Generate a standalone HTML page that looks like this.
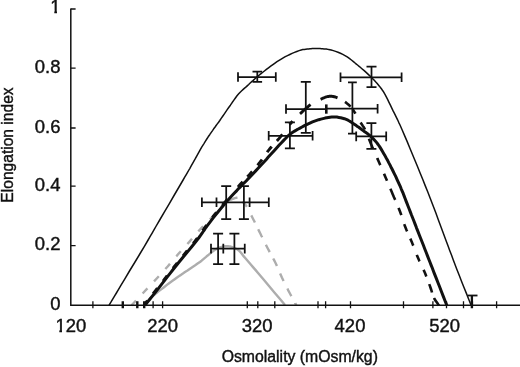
<!DOCTYPE html>
<html><head><meta charset="utf-8"><title>Elongation index vs osmolality</title>
<style>
html,body{margin:0;padding:0;background:#fff;}
body{width:520px;height:367px;overflow:hidden;}
svg{display:block;}
text{font-family:"Liberation Sans",Arial,Helvetica,sans-serif;fill:#111;stroke:#111;stroke-width:0.4px;}
</style></head><body>
<svg width="520" height="367" viewBox="0 0 520 367">
<rect width="520" height="367" fill="#fff"/>
<g fill="none" stroke="#adadad" stroke-width="2.4" stroke-linejoin="round">
<path d="M145.5,304.6 L146.2,303.6 L146.9,302.6 L147.7,301.5 L148.4,300.5 L149.2,299.5 L150.0,298.6 L150.9,297.7 L151.9,296.8 L152.8,296.0 L153.9,295.1 L155.0,294.2 L156.2,293.2 L158.5,291.4 L161.2,289.4 L164.0,287.2 L166.9,284.9 L169.8,282.7 L172.5,280.8 L174.7,279.2 L176.7,277.7 L178.8,276.3 L180.8,274.9 L182.9,273.5 L185.0,272.0 L187.5,270.4 L190.0,268.7 L192.6,267.0 L195.2,265.3 L197.6,263.6 L199.9,262.0 L201.6,260.7 L203.1,259.4 L204.6,258.1 L206.1,256.9 L207.4,255.7 L208.8,254.6 L209.7,253.8 L210.6,253.1 L211.4,252.4 L212.3,251.7 L213.1,251.1 L214.0,250.5 L214.8,250.0 L215.6,249.4 L216.5,248.9 L217.3,248.5 L218.1,248.1 L219.0,247.7 L219.8,247.4 L220.6,247.1 L221.5,246.9 L222.3,246.7 L223.1,246.5 L224.0,246.4 L225.0,246.3 L226.0,246.3 L227.0,246.2 L228.1,246.3 L229.1,246.4 L230.0,246.5 L230.8,246.7 L231.5,246.9 L232.3,247.2 L233.0,247.5 L233.7,247.8 L234.4,248.1 L235.1,248.4 L235.8,248.7 L236.5,249.0 L237.1,249.3 L237.8,249.7 L238.5,250.2 L239.5,251.1 L240.6,252.3 L241.6,253.6 L242.7,255.0 L243.8,256.4 L245.0,257.8 L246.5,259.5 L248.0,261.2 L249.5,263.0 L251.2,265.0 L253.0,267.1 L255.0,269.4 L259.1,274.2 L263.8,279.8 L269.0,286.0 L274.4,292.4 L279.8,298.8 L285.0,305.0"/>
<path d="M131.5,305.3 L133.7,303.0 L135.8,300.8 L137.9,298.6 L140.0,296.3 L142.3,293.9 L144.7,291.3 L148.3,287.5 L152.3,283.2 L156.5,278.7 L160.6,274.3 L164.5,270.0 L167.9,266.2 L169.9,263.9 L171.8,261.8 L173.5,259.7 L175.1,257.7 L176.8,255.8 L178.5,253.8 L180.3,251.8 L182.0,249.8 L183.8,247.9 L185.6,246.0 L187.3,244.1 L189.1,242.1 L190.9,240.0 L192.7,237.9 L194.5,235.8 L196.3,233.7 L198.1,231.6 L200.0,229.5 L202.1,227.3 L204.3,225.0 L206.5,222.8 L208.8,220.5 L211.0,218.3 L213.2,216.0 L215.4,213.6 L217.6,211.1 L219.8,208.5 L222.0,206.1 L224.1,204.0 L226.0,202.3 L226.6,201.9" stroke-dasharray="7.0 9.7" stroke-dashoffset="0.52"/>
<path d="M229.0,200.5 L229.1,200.4 L230.0,200.0 L231.0,199.6 L232.0,199.2 L232.9,198.8 L233.9,198.5 L234.9,198.1 L235.8,197.9 L236.7,197.7 L237.5,197.6 L237.5,197.6 M242.5,201.5 L243.1,202.3 L243.8,203.1 L244.6,203.9 L245.4,204.8 L246.1,205.7 L246.9,206.8 L246.9,206.8 M251.3,215.4 L252.0,216.8 L253.1,219.0 L254.3,221.3 L254.9,222.6 M258.2,229.3 L259.1,231.1 L260.3,233.5 L261.5,236.0 L262.2,237.3 M265.9,244.8 L266.5,246.0 L267.8,248.5 L269.1,250.9 L269.7,252.1 M273.2,258.5 L274.1,260.1 L275.3,262.5 L276.5,265.0 L276.9,266.0 M280.1,273.4 L280.8,275.0 L281.9,277.5 L283.1,280.0 L283.6,281.1 M287.4,288.6 L288.1,290.1 L289.4,292.5 L290.6,294.7 L291.4,296.1 M295.2,303.0 L295.2,303.2 L296.3,305.2"/>
</g>
<g fill="none" stroke="#111" stroke-linejoin="round">
<path d="M109.0,305.3 L110.9,302.2 L112.7,299.1 L114.5,296.1 L116.4,293.0 L118.4,289.6 L120.6,285.9 L124.7,279.1 L129.5,271.0 L134.7,262.5 L139.8,254.0 L144.4,246.3 L148.1,240.0 L149.6,237.4 L150.9,235.2 L152.0,233.3 L153.1,231.3 L154.4,229.1 L155.9,226.5 L159.7,220.0 L164.3,212.1 L169.5,203.3 L174.6,194.5 L179.3,186.5 L183.1,180.0 L184.7,177.2 L186.1,174.8 L187.4,172.6 L188.6,170.5 L189.9,168.3 L191.2,165.9 L193.2,162.4 L195.3,158.7 L197.4,154.8 L199.6,150.9 L201.7,147.1 L203.8,143.8 L205.3,141.3 L206.8,139.0 L208.2,136.8 L209.7,134.7 L211.1,132.6 L212.5,130.6 L213.7,128.8 L214.9,127.2 L216.1,125.5 L217.3,123.9 L218.6,122.2 L219.8,120.5 L221.2,118.4 L222.7,116.3 L224.2,114.1 L225.7,111.9 L227.2,109.7 L228.7,107.5 L230.4,105.2 L232.0,102.8 L233.7,100.4 L235.4,98.0 L237.0,95.8 L238.7,93.8 L240.2,92.2 L241.7,90.8 L243.2,89.4 L244.6,88.1 L246.1,86.9 L247.5,85.6 L248.7,84.5 L249.9,83.3 L251.1,82.2 L252.3,81.2 L253.5,80.1 L254.7,79.0 L255.9,77.9 L257.2,76.9 L258.4,75.8 L259.7,74.7 L261.1,73.6 L262.5,72.5 L264.4,71.0 L266.4,69.4 L268.5,67.8 L270.7,66.2 L272.9,64.6 L275.0,63.1 L277.0,61.7 L279.1,60.4 L281.2,59.1 L283.2,57.9 L285.3,56.7 L287.5,55.6 L289.8,54.5 L292.1,53.4 L294.5,52.4 L296.8,51.5 L299.1,50.6 L301.2,50.0 L302.8,49.6 L304.3,49.4 L305.8,49.2 L307.2,49.0 L308.6,48.9 L310.0,48.8 L311.1,48.7 L312.1,48.6 L313.1,48.6 L314.2,48.5 L315.2,48.5 L316.2,48.5 L317.5,48.5 L318.8,48.5 L320.1,48.6 L321.4,48.7 L322.7,48.8 L324.0,48.9 L325.2,49.0 L326.4,49.1 L327.5,49.3 L328.7,49.4 L329.9,49.7 L331.2,50.0 L333.3,50.6 L335.6,51.4 L338.0,52.3 L340.4,53.3 L342.8,54.4 L345.0,55.6 L347.2,56.9 L349.3,58.4 L351.4,60.0 L353.4,61.6 L355.4,63.3 L357.5,65.0 L359.7,66.8 L361.9,68.7 L364.2,70.6 L366.4,72.6 L368.5,74.6 L370.5,76.5 L372.2,78.2 L374.0,80.0 L375.6,81.8 L377.2,83.5 L378.6,85.2 L380.0,86.9 L381.0,88.2 L381.8,89.3 L382.6,90.5 L383.4,91.7 L384.2,93.0 L385.0,94.4 L386.3,96.8 L387.6,99.4 L389.0,102.3 L390.4,105.2 L391.8,108.1 L393.1,110.9 L394.3,113.2 L395.4,115.4 L396.5,117.6 L397.6,119.8 L398.7,122.3 L400.0,125.0 L402.2,130.0 L404.6,135.6 L407.2,141.6 L409.8,148.0 L412.4,154.3 L415.0,160.5 L417.6,166.7 L420.1,173.0 L422.7,179.3 L425.2,185.6 L427.8,192.0 L430.3,198.5 L433.0,205.5 L435.7,212.6 L438.3,219.8 L441.0,227.0 L443.6,233.9 L446.0,240.5 L447.9,245.6 L449.7,250.5 L451.5,255.1 L453.2,259.8 L455.0,264.6 L456.9,269.5 L459.2,275.3 L461.5,281.2 L463.9,287.3 L466.4,293.4 L468.8,299.5 L471.2,305.5" stroke-width="1.5"/>
<path d="M145.0,305.2 L147.5,302.1 L150.0,299.0 L152.5,295.8 L155.0,292.7 L157.5,289.6 L160.0,286.4 L162.5,283.2 L165.0,279.9 L167.5,276.7 L170.1,273.4 L172.7,270.0 L175.5,266.5 L179.3,261.8 L183.4,256.8 L187.7,251.6 L191.9,246.5 L195.7,241.7 L199.0,237.5 L200.7,235.2 L202.1,233.2 L203.3,231.3 L204.6,229.5 L205.9,227.5 L207.5,225.3 L210.2,221.8 L213.2,217.9 L216.5,213.8 L219.8,209.7 L223.1,205.7 L226.2,202.0 L228.9,199.0 L231.6,196.1 L234.2,193.3 L236.8,190.6 L239.1,188.1 L241.3,185.9 L242.4,184.7 L243.4,183.6 L244.4,182.7 L245.4,181.7 L246.4,180.7 L247.5,179.5 L249.3,177.6 L251.4,175.5 L253.5,173.2 L255.7,170.9 L257.9,168.5 L260.0,166.2 L262.1,164.0 L264.2,161.7 L266.3,159.4 L268.3,157.1 L270.4,154.8 L272.5,152.5 L274.6,150.2 L276.8,147.7 L279.0,145.3 L281.2,143.0 L283.2,140.9 L285.0,139.0 L286.0,138.0 L286.9,137.0 L287.8,136.2 L288.7,135.4 L289.6,134.6 L290.6,133.8 L292.0,132.8 L293.5,131.8 L295.0,130.9 L296.6,129.9 L298.3,129.0 L300.0,128.1 L302.0,127.0 L304.0,125.9 L306.1,124.8 L308.2,123.8 L310.4,122.8 L312.5,121.9 L314.6,121.1 L316.7,120.4 L318.8,119.7 L320.9,119.1 L323.0,118.6 L325.0,118.1 L326.7,117.8 L328.4,117.5 L330.0,117.2 L331.7,117.0 L333.3,117.0 L335.0,117.0 L336.9,117.1 L338.8,117.4 L340.7,117.7 L342.6,118.2 L344.4,118.7 L346.2,119.4 L348.0,120.2 L349.8,121.2 L351.4,122.3 L353.1,123.4 L354.7,124.5 L356.3,125.6 L357.5,126.5 L358.8,127.3 L360.0,128.2 L361.1,129.1 L362.3,129.9 L363.5,130.8 L364.7,131.7 L365.9,132.5 L367.1,133.4 L368.3,134.3 L369.4,135.2 L370.6,136.2 L371.9,137.5 L373.2,138.7 L374.4,140.0 L375.7,141.4 L376.9,142.9 L378.1,144.5 L379.6,146.6 L381.0,148.9 L382.4,151.3 L383.8,153.7 L385.2,156.1 L386.5,158.5 L387.7,160.6 L388.7,162.6 L389.8,164.6 L390.8,166.7 L391.9,168.8 L393.0,171.0 L394.4,173.8 L395.8,176.7 L397.2,179.8 L398.6,182.8 L400.0,185.8 L401.2,188.8 L402.3,191.3 L403.3,193.7 L404.2,196.1 L405.1,198.5 L406.0,200.9 L407.0,203.4 L408.1,206.2 L409.2,209.0 L410.3,211.9 L411.4,214.8 L412.6,217.7 L413.8,220.7 L415.1,224.1 L416.4,227.6 L417.8,231.1 L419.2,234.7 L420.6,238.3 L422.0,241.8 L423.4,245.3 L424.7,248.7 L426.1,252.2 L427.4,255.6 L428.7,259.0 L430.0,262.3 L431.1,265.1 L432.2,267.8 L433.2,270.5 L434.2,273.1 L435.3,275.9 L436.5,278.9 L438.1,283.0 L439.8,287.3 L441.5,291.8 L443.3,296.4 L445.1,301.0 L446.9,305.5" stroke-width="3"/>
<path d="M144.3,304.6 L145.5,303.1 L146.8,301.5 L147.4,300.8 M153.1,293.6 L154.3,292.1 L155.5,290.6 L156.8,289.0 L157.4,288.3 M163.1,281.0 L164.3,279.4 L165.5,277.8 L166.8,276.2 L167.2,275.6 M172.9,268.3 L173.4,267.8 L174.8,265.9 L176.7,263.6 L177.2,263.0 M183.0,255.9 L185.0,253.5 L187.0,251.0 L187.3,250.6 M193.2,243.4 L195.0,241.2 L196.7,239.0 L197.4,238.1 M202.7,230.6 L203.2,229.8 L203.9,228.9 L204.6,227.9 L205.2,226.9 L206.0,225.9 L206.6,225.0 M212.2,217.6 L212.6,217.2 L214.2,215.2 L215.8,213.2 L216.5,212.3 M222.4,205.2 L223.8,203.5 L225.6,201.4 L226.8,200.0 M237.9,187.0 L238.0,186.9 L240.3,184.3 L242.0,182.5 L242.7,181.7 M247.4,176.8 L248.2,175.9 L249.8,174.2 L251.5,172.3 L252.2,171.5 M257.5,165.2 L258.2,164.4 L259.8,162.4 L261.4,160.3 L262.0,159.5 M267.2,152.2 L267.7,151.4 L269.4,149.3 L271.1,147.3 L271.7,146.6 M276.9,140.9 L278.1,139.6 L279.8,137.6 L281.7,135.2 L282.4,134.3 M289.6,124.6 L291.0,123.0 L292.5,121.3 L292.6,121.2 M300.0,113.9 L301.0,113.0 L301.9,112.1 L302.7,111.3 L303.6,110.5 L304.4,109.8 L305.3,109.0 L306.2,108.2 L307.0,107.5 L307.8,106.8 L308.7,106.0 L309.6,105.3 L310.6,104.6 M320.6,99.3 L321.5,98.9 L322.3,98.5 L323.1,98.1 L323.9,97.8 L324.7,97.5 L325.5,97.2 L326.4,96.9 L327.3,96.7 L328.2,96.5 L329.1,96.3 L330.1,96.2 L331.0,96.2 L332.1,96.3 L333.1,96.5 L334.2,96.7 L335.3,97.0 L336.4,97.4 L337.5,97.8" stroke-width="2.9"/>
<path d="M345.0,101.9 L346.0,102.6 L347.0,103.4 L348.0,104.2 L348.9,105.0 L349.8,105.9 L350.6,106.7 M352.8,109.4 L353.0,109.8 L353.6,110.7 L354.2,111.6 L355.2,113.2 L355.4,113.6 M360.6,122.5 L360.6,122.5 L361.4,123.7 L362.1,124.8 L362.8,125.9 L363.6,127.0 L364.3,128.2 L365.0,129.5 M368.9,138.7 L369.9,141.2 L370.9,143.7 L372.1,146.6 L373.1,148.8 M377.2,158.0 L377.4,158.6 L378.7,161.5 L379.9,164.2 L380.3,165.1 M384.0,173.7 L384.4,174.6 L385.5,177.2 L386.7,180.0 L387.0,180.7 M390.4,188.8 L391.6,191.5 L392.8,194.4 L394.0,197.3 L395.2,199.9 M398.6,207.9 L398.9,208.7 L400.0,211.5 L401.0,214.2 L401.3,215.2 M404.3,224.2 L404.6,225.2 L405.6,227.8 L406.6,230.3 L407.1,231.4 M410.3,238.6 L410.9,239.9 L411.9,242.3 L412.9,244.9 L413.3,245.7 M416.8,254.8 L417.0,255.5 L418.1,258.1 L419.2,260.6 L419.6,261.4 M423.5,269.8 L423.9,270.6 L425.0,273.1 L426.0,275.6 L426.4,276.5 M429.2,284.1 L429.9,285.9 L430.7,288.2 L431.3,290.0 L431.8,291.7 L432.0,292.5 M434.0,298.0 L434.7,299.3 L435.5,300.6 L436.4,301.8 L437.3,303.1 L438.1,304.3 L439.0,305.5" stroke-width="2.6"/>
</g>
<g fill="none" stroke="#111" stroke-width="1.75">
<path d="M201.9,202.3 H268.8 M201.9,197.5 V207.10000000000002 M216.5,197.5 V207.10000000000002 M249.6,197.5 V207.10000000000002 M268.8,197.5 V207.10000000000002"/>
<path d="M226.2,186 V219.2 M221.2,186 H231.2 M221.2,219.2 H231.2"/>
<path d="M243.9,186 V219.2 M238.9,186 H248.9 M238.9,219.2 H248.9"/>
<path d="M211,248.6 H244.75 M211,243.79999999999998 V253.4 M223.3,243.79999999999998 V253.4 M244.75,243.79999999999998 V253.4"/>
<path d="M218.1,233.6 V264 M213.1,233.6 H223.1 M213.1,264 H223.1"/>
<path d="M234.4,233.6 V264 M229.4,233.6 H239.4 M229.4,264 H239.4"/>
<path d="M238,77 H275.8 M238,72.2 V81.8 M275.8,72.2 V81.8"/>
<path d="M257.3,71.5 V81.8 M252.5,71.5 H262.1 M252.5,81.8 H262.1"/>
<path d="M286,109 H327 M286,104.2 V113.8"/>
<path d="M305.8,81.9 V132.8 M300.8,81.9 H310.8 M300.8,132.8 H310.8"/>
<path d="M326.4,108.7 H377.6 M377.6,103.9 V113.5"/>
<path d="M352.4,82.3 V133.6 M348.0,82.3 H356.79999999999995 M348.0,133.6 H356.79999999999995"/>
<path d="M268.7,135.8 H312.6 M268.7,131.0 V140.60000000000002 M312.6,131.0 V140.60000000000002"/>
<path d="M289.9,122.3 V148.4 M284.9,122.3 H294.9 M284.9,148.4 H294.9"/>
<path d="M340.5,77.3 H401.6 M340.5,72.5 V82.1 M401.6,72.5 V82.1"/>
<path d="M371.5,66.5 V87 M366.5,66.5 H376.5 M366.5,87 H376.5"/>
<path d="M356.2,136.4 H386.2 M356.2,131.6 V141.20000000000002 M386.2,131.6 V141.20000000000002"/>
<path d="M371.4,123.2 V148.8 M366.4,123.2 H376.4 M366.4,148.8 H376.4"/>
<path d="M326.3,104.4 V113.7" stroke-width="2.6"/>
<path d="M471.9,305 V295.5" stroke-width="2.3"/><path d="M467.8,295.5 H477.5" stroke-width="1.8"/>
</g>
<g fill="none" stroke="#111">
<path d="M70.8,8.4 V305.3 H520" stroke-width="1.5"/>
<path d="M70.8,9 H75.6 M70.8,68.2 H75.6 M70.8,128.0 H75.6 M70.8,186.2 H75.6 M70.8,245.6 H75.6" stroke-width="1.3"/>
<path d="M92.9,301.2 V308.2 M153.1,301.2 V308.2 M162.6,301.2 V308.2 M247.3,301.2 V308.2 M257.8,301.2 V308.2 M274.8,301.2 V308.2 M318,301.2 V308.2 M325.6,301.2 V308.2 M350.5,301.2 V308.2 M403.5,301.2 V308.2 M432.9,301.2 V308.2 M446.5,301.2 V308.2 M463.5,301.2 V308.2 M496.6,301.2 V308.2" stroke-width="1.3"/>
<path d="M122.8,301.2 V308.2 M137.3,301.2 V308.2 M144.2,301.2 V308.2 M471.9,301.2 V308.2" stroke-width="2.4"/>
</g>
<g font-size="18.1px"><text transform="translate(60.4,13.2) scale(1.02,1)" text-anchor="end">1</text><text transform="translate(60.4,73.10000000000001) scale(1.02,1)" text-anchor="end">0.8</text><text transform="translate(60.4,133.29999999999998) scale(1.02,1)" text-anchor="end">0.6</text><text transform="translate(60.4,190.5) scale(1.02,1)" text-anchor="end">0.4</text><text transform="translate(60.4,249.7) scale(1.02,1)" text-anchor="end">0.2</text><text transform="translate(60.4,310.0) scale(1.02,1)" text-anchor="end">0</text><text transform="translate(70.8,331.5) scale(1.02,1)" text-anchor="middle">120</text><text transform="translate(162.6,331.5) scale(1.02,1)" text-anchor="middle">220</text><text transform="translate(257.2,331.5) scale(1.02,1)" text-anchor="middle">320</text><text transform="translate(350,331.5) scale(1.02,1)" text-anchor="middle">420</text><text transform="translate(444.7,331.5) scale(1.02,1)" text-anchor="middle">520</text></g>
<path d="M50.4,10.6 H54.3 V14 H50.4 Z M57,10.6 H60.2 V14 H57 Z M55.4,329.6 H59.3 V333.2 H55.4 Z M62,329.6 H65.2 V333.2 H62 Z" fill="#fff"/>
<text font-size="15.8px" x="299.8" y="362" text-anchor="middle">Osmolality (mOsm/kg)</text>
<text font-size="15.6px" transform="translate(13.3,145) rotate(-90)" text-anchor="middle">Elongation index</text>
</svg>
</body></html>
